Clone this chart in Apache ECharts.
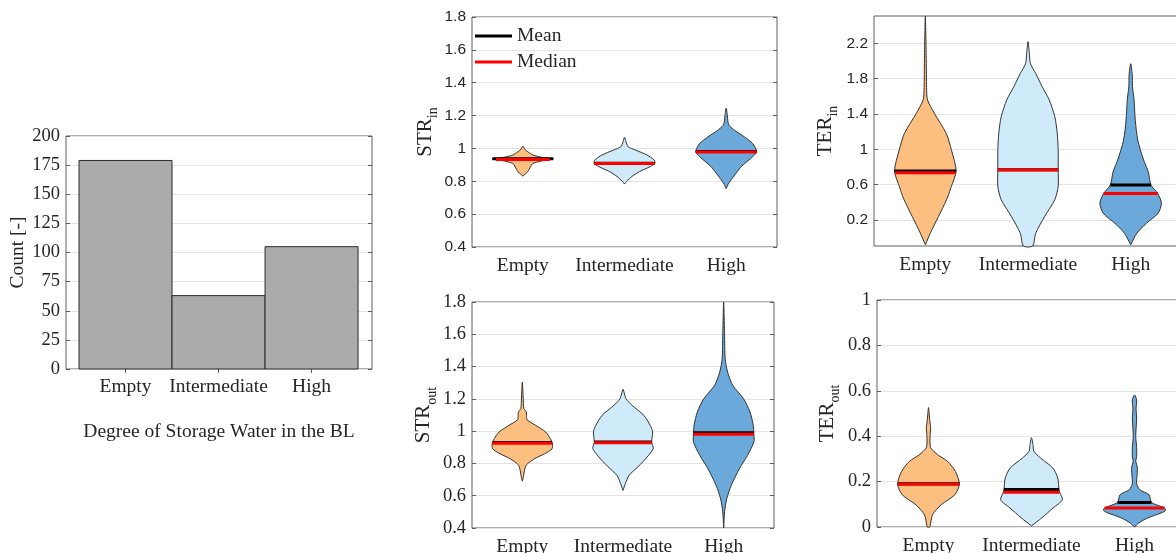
<!DOCTYPE html>
<html><head><meta charset="utf-8">
<script src="https://cdn.jsdelivr.net/npm/echarts@6/dist/echarts.min.js"></script>
<style>html,body{margin:0;padding:0;background:#fff}#c{width:1176px;height:553px}</style>
</head><body><div id="c"></div>
<script>
// ---------------- DATA ----------------
const categories = ['Empty', 'Intermediate', 'High'];
const countValues = [179, 63, 105];
const countTickValues = [1, 2, 3];
const terInTicks = [0.2, 0.6, 1, 1.4, 1.8, 2.2];

// Violin profiles: [value, relative density (1 = widest)]
const strInEmpty = [[0.831,0],[0.845,0.08],[0.858,0.16],[0.888,0.25],[0.909,0.33],[0.925,0.65],[0.937,1],[0.945,0.65],[0.96,0.33],[0.98,0.16],[0.995,0.06],[1.0145,0]];
const strInIntermediate = [[0.783,0],[0.80,0.07],[0.83,0.25],[0.86,0.5],[0.89,0.85],[0.91,1],[0.93,0.97],[0.96,0.74],[0.99,0.36],[1.01,0.12],[1.04,0.05],[1.068,0]];
const strInHigh = [[0.756,0],[0.78,0.06],[0.80,0.13],[0.85,0.33],[0.89,0.5],[0.95,0.87],[0.98,1],[1.03,0.87],[1.07,0.6],[1.11,0.28],[1.14,0.1],[1.16,0.06],[1.20,0.04],[1.245,0]];
const strInMean = [0.937, 0.910, 0.982];
const strInMedian = [0.933, 0.909, 0.978];

const strOutEmpty = [[0.69,0],[0.72,0.04],[0.747,0.06],[0.79,0.13],[0.83,0.41],[0.86,0.74],[0.89,0.98],[0.922,1],[0.953,0.93],[0.995,0.77],[1.036,0.44],[1.07,0.16],[1.09,0.14],[1.12,0.13],[1.14,0.05],[1.20,0.03],[1.304,0]];
const strOutIntermediate = [[0.633,0],[0.675,0.08],[0.726,0.2],[0.78,0.5],[0.84,0.8],[0.892,1],[0.933,0.95],[0.995,0.98],[1.036,0.9],[1.098,0.69],[1.16,0.3],[1.2,0.1],[1.23,0.05],[1.259,0]];
const strOutHigh = [[0.4,0],[0.5,0.03],[0.58,0.1],[0.664,0.25],[0.767,0.52],[0.85,0.79],[0.933,1],[0.985,1],[1.036,0.98],[1.12,0.87],[1.2,0.66],[1.284,0.3],[1.366,0.13],[1.45,0.05],[1.6,0.03],[1.8,0]];
const strOutMean = [0.930, 0.932, 0.990];
const strOutMedian = [0.925, 0.928, 0.980];

const terInEmpty = [[-0.08,0],[0.05,0.16],[0.166,0.32],[0.313,0.53],[0.464,0.73],[0.577,0.84],[0.755,1],[0.99,0.85],[1.18,0.68],[1.41,0.29],[1.56,0.07],[1.7,0.04],[2.0,0.03],[2.51,0]];
const terInIntermediate = [[-0.094,0.15],[0.05,0.25],[0.24,0.54],[0.43,0.87],[0.58,0.98],[0.77,0.98],[0.99,0.98],[1.18,0.95],[1.37,0.87],[1.56,0.69],[1.71,0.46],[1.86,0.25],[1.97,0.08],[2.1,0.04],[2.22,0]];
const terInHigh = [[-0.08,0],[0.05,0.2],[0.163,0.51],[0.276,0.89],[0.39,1],[0.50,0.88],[0.596,0.66],[0.747,0.57],[0.88,0.42],[1.105,0.23],[1.33,0.15],[1.56,0.11],[1.71,0.06],[1.85,0.05],[1.97,0]];
const terInMean = [0.755, 0.770, 0.596];
const terInMedian = [0.736, 0.766, 0.500];

const terOutEmpty = [[0,0.04],[0.054,0.13],[0.098,0.41],[0.142,0.85],[0.189,1],[0.245,0.87],[0.289,0.62],[0.318,0.3],[0.35,0.07],[0.40,0.05],[0.436,0.07],[0.47,0.04],[0.526,0]];
const terOutIntermediate = [[0.005,0],[0.04,0.33],[0.084,0.7],[0.12,1],[0.157,0.9],[0.216,0.85],[0.26,0.69],[0.303,0.3],[0.333,0.08],[0.36,0.05],[0.394,0]];
const terOutHigh = [[0,0],[0.018,0.14],[0.04,0.43],[0.062,0.86],[0.072,1],[0.084,0.97],[0.108,0.55],[0.142,0.47],[0.164,0.17],[0.19,0.07],[0.208,0.07],[0.24,0.09],[0.265,0.09],[0.29,0.04],[0.31,0.07],[0.35,0.07],[0.4,0.04],[0.48,0.07],[0.52,0.05],[0.56,0.07],[0.582,0]];
const terOutMean = [0.190, 0.165, 0.108];
const terOutMedian = [0.188, 0.153, 0.084];

// ---------------- STYLE ----------------
const SERIF = '"Liberation Serif","Times New Roman",serif';
const SANS = '"Liberation Sans",Arial,sans-serif';
const TXT = '#262626';
const FRAME = '#5e5e5e';
const GRIDLINE = '#e4e4e4';
const FILLS = ['#FDBF80', '#CFEBFA', '#6AA9D9'];
const HALF = 0.3;

const grids = [
  {left: 66, top: 136, width: 306, height: 233},
  {left: 472, top: 17, width: 305, height: 230},
  {left: 472, top: 302, width: 302, height: 226},
  {left: 874, top: 16, width: 308, height: 230},
  {left: 877, top: 300, width: 309, height: 227}
].map(g => Object.assign({show: true, borderColor: FRAME, borderWidth: 1, backgroundColor: '#fff', containLabel: false, outerBoundsMode: 'none'}, g));

const tickStyle = {inside: true, length: 4, lineStyle: {color: FRAME, width: 1}};

function widthAt(prof, v) {
  for (let k = 0; k < prof.length - 1; k++) {
    const a = prof[k], b = prof[k + 1];
    if (v >= a[0] && v <= b[0]) {
      const t = (v - a[0]) / (b[0] - a[0]);
      return a[1] + t * (b[1] - a[1]);
    }
  }
  return 0;
}

const xAxes = [], yAxes = [], series = [];

// Panel 0: histogram of counts
xAxes.push({
  type: 'value', gridIndex: 0, min: 0.36, max: 3.65,
  axisLine: {show: false}, splitLine: {show: false},
  axisTick: Object.assign({customValues: countTickValues}, tickStyle),
  axisLabel: {customValues: countTickValues, formatter: v => categories[Math.round(v) - 1] || '', fontFamily: SERIF, fontSize: 19.5, color: TXT, margin: 8},
  name: 'Degree of Storage Water in the BL', nameLocation: 'middle', nameGap: 53,
  nameTextStyle: {fontFamily: SERIF, fontSize: 19.5, color: TXT}
});
xAxes.push({
  type: 'value', gridIndex: 0, position: 'top', min: 0.36, max: 3.65,
  axisLine: {show: false}, splitLine: {show: false},
  axisTick: Object.assign({customValues: countTickValues}, tickStyle),
  axisLabel: {show: false, customValues: countTickValues}
});
yAxes.push({
  type: 'value', gridIndex: 0, min: 0, max: 200, interval: 25,
  axisLine: {show: false}, axisTick: Object.assign({show: true}, tickStyle),
  splitLine: {show: true, lineStyle: {color: GRIDLINE, width: 1}},
  axisLabel: {fontFamily: SERIF, fontSize: 18.5, color: TXT, margin: 6},
  name: 'Count [-]', nameLocation: 'middle', nameGap: 37,
  nameTextStyle: {fontFamily: SERIF, fontSize: 19.5, color: TXT}
});
yAxes.push({
  type: 'value', gridIndex: 0, position: 'right', min: 0, max: 200, interval: 25,
  axisLine: {show: false}, axisTick: Object.assign({show: true}, tickStyle),
  splitLine: {show: false}, axisLabel: {show: false}
});
series.push({
  type: 'custom', name: 'Count', xAxisIndex: 0, yAxisIndex: 0,
  data: countValues.map((v, i) => [i + 1, v]),
  encode: {x: 0, y: 1},
  renderItem: function (params, api) {
    const x = api.value(0), v = api.value(1);
    const p1 = api.coord([x - 0.5, v]);
    const p2 = api.coord([x + 0.5, 0]);
    return {type: 'rect', shape: {x: p1[0], y: p1[1], width: p2[0] - p1[0], height: p2[1] - p1[1]},
      style: {fill: '#ABABAB', stroke: '#2b2b2b', lineWidth: 1}};
  },
  z: 3
});

// Violin panels
const panels = [
  {profiles: [strInEmpty, strInIntermediate, strInHigh], mean: strInMean, median: strInMedian,
   y: {min: 0.4, max: 1.8, interval: 0.2}, font: SANS, fs: 15.5, sub: 'in', main: 'STR', gap: 31},
  {profiles: [strOutEmpty, strOutIntermediate, strOutHigh], mean: strOutMean, median: strOutMedian,
   y: {min: 0.4, max: 1.8, interval: 0.2}, font: SERIF, fs: 18.5, sub: 'out', main: 'STR', gap: 31},
  {profiles: [terInEmpty, terInIntermediate, terInHigh], mean: terInMean, median: terInMedian,
   y: {min: -0.094, max: 2.51, custom: terInTicks}, font: SANS, fs: 15.5, sub: 'in', main: 'TER', gap: 34},
  {profiles: [terOutEmpty, terOutIntermediate, terOutHigh], mean: terOutMean, median: terOutMedian,
   y: {min: 0, max: 1, interval: 0.2}, font: SERIF, fs: 18.5, sub: 'out', main: 'TER', gap: 35}
];

panels.forEach((p, k) => {
  const gi = k + 1;
  const xi = xAxes.length, yi = yAxes.length;
  xAxes.push({
    type: 'category', gridIndex: gi, data: categories, boundaryGap: true,
    axisLine: {show: false}, splitLine: {show: false},
    axisTick: Object.assign({alignWithLabel: true}, tickStyle),
    axisLabel: {fontFamily: SERIF, fontSize: 19.5, color: TXT, margin: 9, interval: 0}
  });
  xAxes.push({
    type: 'category', gridIndex: gi, data: categories, position: 'top', boundaryGap: true,
    axisLine: {show: false}, splitLine: {show: false},
    axisTick: Object.assign({alignWithLabel: true}, tickStyle),
    axisLabel: {show: false}
  });
  const yBase = {type: 'value', gridIndex: gi, min: p.y.min, max: p.y.max};
  if (p.y.interval) yBase.interval = p.y.interval;
  const tick = Object.assign({show: true}, tickStyle);
  const lab = {fontFamily: p.font, fontSize: p.fs, color: TXT, margin: 6};
  if (p.y.custom) { tick.customValues = p.y.custom; lab.customValues = p.y.custom; }
  yAxes.push(Object.assign({}, yBase, {
    axisLine: {show: false}, axisTick: tick,
    splitLine: {show: true, lineStyle: {color: GRIDLINE, width: 1}},
    axisLabel: lab,
    name: '{a|' + p.main + '}{b|' + p.sub + '}', nameLocation: 'middle', nameGap: p.gap,
    nameTextStyle: {rich: {
      a: {fontFamily: SERIF, fontSize: 21, color: TXT, lineHeight: 30, verticalAlign: 'middle'},
      b: {fontFamily: SERIF, fontSize: 14, color: TXT, lineHeight: 30, verticalAlign: 'bottom'}
    }}
  }));
  yAxes.push(Object.assign({}, yBase, {
    position: 'right', axisLine: {show: false}, axisTick: Object.assign({}, tick),
    splitLine: {show: false}, axisLabel: {show: false}
  }));

  series.push({
    type: 'custom', name: 'violin' + k, xAxisIndex: xi, yAxisIndex: yi,
    data: p.mean.map((m, i) => [i, m]), encode: {x: 0, y: 1},
    renderItem: function (params, api) {
      const i = params.dataIndex;
      const prof = p.profiles[i];
      const cx = api.coord([i, 0])[0];
      const hw = api.size([1, 0])[0] * HALF;
      const left = [], right = [];
      prof.forEach(([v, d]) => {
        const y = api.coord([i, v])[1];
        left.push([cx - d * hw, y]);
        right.push([cx + d * hw, y]);
      });
      right.reverse();
      let pts = left.concat(right);
      pts = pts.filter((pt, j) => j === 0 || Math.abs(pt[0] - pts[j - 1][0]) > 0.01 || Math.abs(pt[1] - pts[j - 1][1]) > 0.01);
      return {type: 'polygon', shape: {points: pts, smooth: 0.25},
        style: {fill: FILLS[i], stroke: '#333333', lineWidth: 1}};
    },
    z: 3
  });
  [['Mean', p.mean, '#000000', 4], ['Median', p.median, '#ff0000', 5]].forEach(([nm, arr, col, z]) => {
    series.push({
      type: 'custom', name: nm, xAxisIndex: xi, yAxisIndex: yi,
      itemStyle: {color: col},
      data: arr.map((m, i) => [i, m]), encode: {x: 0, y: 1},
      renderItem: function (params, api) {
        const i = params.dataIndex;
        const v = api.value(1);
        const cx = api.coord([i, 0])[0];
        const hw = api.size([1, 0])[0] * HALF * widthAt(p.profiles[i], v);
        const y = api.coord([i, v])[1];
        return {type: 'line', shape: {x1: cx - hw, y1: y, x2: cx + hw, y2: y},
          style: {stroke: col, lineWidth: 3}};
      },
      z: z
    });
  });
});

const chart = echarts.init(document.getElementById('c'), null, {renderer: 'canvas'});
chart.setOption({
  animation: false,
  backgroundColor: '#ffffff',
  grid: grids,
  xAxis: xAxes,
  yAxis: yAxes,
  legend: {
    data: ['Mean', 'Median'], orient: 'vertical', left: 475, top: 26, padding: 0,
    icon: 'rect', itemWidth: 37, itemHeight: 3, itemGap: 6, selectedMode: false,
    textStyle: {fontFamily: SERIF, fontSize: 19.5, color: TXT}
  },
  series: series
});
</script></body></html>
